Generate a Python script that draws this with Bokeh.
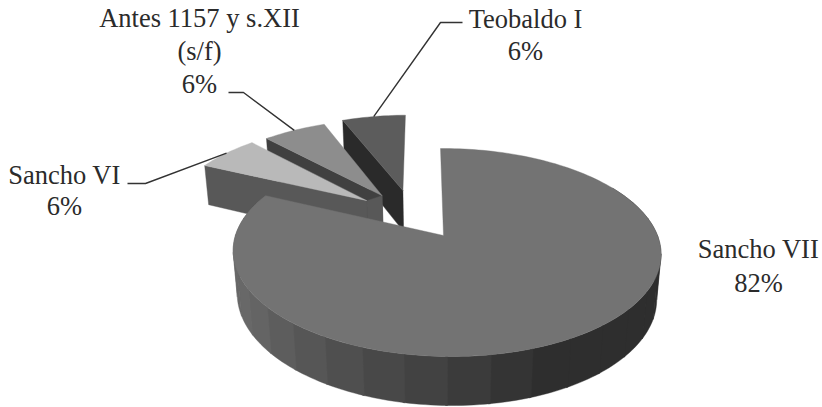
import math
from bokeh.embed import file_html
from bokeh.models import Range1d
from bokeh.plotting import figure
from bokeh.resources import INLINE
from bokeh.core.properties import value

# Shares of documents per reign, clockwise from twelve o'clock
categories = ["Sancho VII", "Sancho VI", "Antes 1157 y s.XII (s/f)", "Teobaldo I"]
shares = [82, 6, 6, 6]
percent_labels = ["82%", "6%", "6%", "6%"]

top_colors = ["#737373", "#b9b9b9", "#8d8d8d", "#5c5c5c"]
wall_colors = ["#5a5a5a", "#585858", "#404040", "#2a2a2a"]
# Pull-out of each slice's tip on the pie plane (across, away from the viewer)
explode = [(0.0, 0.0), (-0.381, 0.367), (-0.305, 0.4225), (-0.2, 0.48)]

# Camera used to project the pie plane onto the page
CX, CY = 443.0, 235.0
RX, RY = 211.0, 101.2
P, Q = 0.1635, 0.014
SKEW = -3.5
DROP, DROP_W = 44.3, 0.0194
FONT = value("Liberation Serif")
FONT_SIZE = "26.5px"
INK = "#2b2b2b"


def top_pt(u, v):
    w = 1 + P * v - Q * u
    return CX + (RX * u + SKEW * v) / w, CY - RY * v / w


def bottom_pt(u, v):
    w = 1 + P * v - Q * u + DROP_W
    return CX + (RX * u + SKEW * v) / w, CY - (RY * v - DROP) / w


def arc(off, a0, a1, project, step=1.5):
    n = max(2, int(abs(a1 - a0) / step) + 1)
    out = []
    for i in range(n + 1):
        t = math.radians(a0 + (a1 - a0) * i / n)
        out.append(project(off[0] + math.sin(t), off[1] + math.cos(t)))
    return out


def poly(p, pts, color):
    p.patch([a for a, _ in pts], [b for _, b in pts], fill_color=color,
            line_color=color, line_width=0.4)


p = figure(width=822, height=407, output_backend="svg", toolbar_location=None,
           x_range=Range1d(0, 822), y_range=Range1d(407, 0),
           x_axis_type=None, y_axis_type=None, min_border=0,
           outline_line_color=None, background_fill_color="white")
p.grid.visible = False

# Slice angles from the shares
total = sum(shares)
starts, ends = [], []
acc = 0.0
for s in shares:
    starts.append(acc / total * 360)
    acc += s
    ends.append(acc / total * 360)

# Pulled-out slices, back to front
for i in (3, 2, 1):
    off = explode[i]
    t = math.radians(starts[i])
    out = (off[0] + math.sin(t), off[1] + math.cos(t))
    wall = [top_pt(*off), top_pt(*out), bottom_pt(*out), bottom_pt(*off)]
    poly(p, wall, wall_colors[i])
    if i == 2:
        # short facet joining this tip to the tip of the slice in front
        prev = explode[i - 1]
        poly(p, [top_pt(*prev), top_pt(*off), bottom_pt(*off), bottom_pt(*prev)], wall_colors[i - 1])
    poly(p, [top_pt(*off)] + arc(off, starts[i], ends[i], top_pt), top_colors[i])

# Outer wall of the main slice, shaded in ten-degree bands
origin = explode[0]
for a0 in range(60, 296, 10):
    a1 = min(a0 + 10.5, ends[0])
    mid = a0 + 5
    g = int(0x2e + max(0.0, min(1.0, (mid - 156) / 84)) * (0x68 - 0x2e))
    col = f"#{g:02x}{g:02x}{g:02x}"
    poly(p, arc(origin, a0, a1, top_pt) + arc(origin, a1, a0, bottom_pt), col)

poly(p, [top_pt(*origin)] + arc(origin, starts[0], ends[0], top_pt), top_colors[0])

# Leader lines run from the arc midpoint of each small slice to its label
elbows = {
    1: [(145, 183), (127, 183)],
    2: [(243, 92), (228, 92)],
    3: [(440, 22), (462, 22)],
}
for i, bend in elbows.items():
    t = math.radians((starts[i] + ends[i]) / 2)
    sx, sy = top_pt(explode[i][0] + math.sin(t), explode[i][1] + math.cos(t))
    xs = [sx] + [b[0] for b in bend]
    ys = [sy] + [b[1] for b in bend]
    p.line(xs, ys, line_color="#333333", line_width=1.4)

# Labels, one line of text per row
rows = [
    ("Sancho VII", 758, 248), (percent_labels[0], 758, 282),
    ("Sancho VI", 64, 174), (percent_labels[1], 64, 205),
    ("Antes 1157 y s.XII", 199, 17), ("(s/f)", 199, 50), (percent_labels[2], 199, 83),
    ("Teobaldo I", 525, 18), (percent_labels[3], 525, 50),
]
p.text(x=[r[1] for r in rows], y=[r[2] for r in rows], text=[r[0] for r in rows],
       text_font=FONT, text_font_size=FONT_SIZE, text_color=INK,
       text_align="center", text_baseline="alphabetic")

open("out.html", "w").write(file_html(p, INLINE))
